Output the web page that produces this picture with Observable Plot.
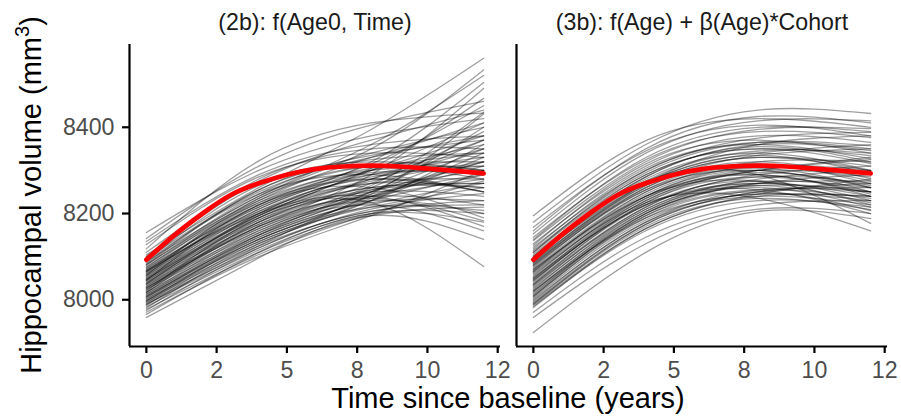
<!DOCTYPE html>
<html><head><meta charset="utf-8">
<script src="https://cdn.jsdelivr.net/npm/d3@7"></script>
<script src="https://cdn.jsdelivr.net/npm/@observablehq/plot@0.6"></script>
<style>
body{margin:0;background:#fff;}
svg{font-family:"Liberation Sans",Arial,sans-serif;}
g[aria-label="x-axis tick label"], g[aria-label="y-axis tick label"],
g[aria-label="x-axis tick label"] text, g[aria-label="y-axis tick label"] text{font-size:23.2px;fill:#4d4d4d;}
g[aria-label="x-axis tick"], g[aria-label="y-axis tick"]{stroke:#333;stroke-width:2.2px;}
</style></head><body><div id="chart"></div>
<script>
const panels = ["(2b): f(Age0, Time)", "(3b): f(Age) + \u03b2(Age)*Cohort"];
const knotTimes = [0, 4, 8, 12];
// each row: one subject's volume at knotTimes
const lines2b = [
[8156,8300,8380,8420],[8142,8310,8405,8460],[8128,8285,8340,8330],[8118,8322,8410,8433],
[8110,8270,8320,8300],[8104,8260,8395,8560],[8099,8280,8350,8350],[8095,8250,8330,8380],
[8091,8265,8310,8280],[8088,8240,8360,8520],[8085,8255,8325,8340],[8082,8230,8300,8310],
[8079,8245,8340,8400],[8076,8225,8280,8250],[8074,8240,8350,8533],[8072,8215,8300,8360],
[8070,8235,8310,8320],[8068,8205,8270,8260],[8066,8230,8330,8410],[8064,8210,8290,8300],
[8062,8225,8305,8340],[8060,8200,8280,8350],[8058,8220,8295,8290],[8056,8195,8275,8320],
[8054,8215,8320,8504],[8052,8190,8260,8270],[8050,8210,8300,8380],[8048,8185,8250,8240],
[8046,8205,8285,8310],[8044,8180,8270,8390],[8042,8200,8290,8330],[8040,8175,8240,8220],
[8038,8195,8305,8467],[8036,8170,8255,8300],[8034,8190,8270,8280],[8032,8165,8230,8200],
[8030,8185,8280,8370],[8028,8160,8245,8290],[8026,8180,8260,8260],[8024,8155,8250,8350],
[8022,8175,8235,8183],[8020,8190,8225,8077],[8018,8150,8240,8310],[8016,8170,8265,8435],
[8014,8145,8225,8230],[8012,8165,8250,8320],[8010,8140,8215,8207],[8008,8160,8240,8280],
[8006,8135,8230,8330],[8004,8155,8220,8160],[8002,8130,8220,8270],[8000,8150,8250,8400],
[7998,8125,8205,8230],[7996,8145,8230,8290],[7994,8120,8210,8246],[7992,8140,8245,8431],
[7990,8115,8200,8200],[7987,8135,8215,8260],[7984,8110,8195,8215],[7981,8130,8230,8360],
[7978,8105,8200,8276],[7975,8120,8205,8220],[7971,8100,8195,8300],[7966,8110,8200,8180],
[7959,8097,8195,8140],[8135,8290,8360,8380],[8100,8275,8370,8440],[8090,8245,8290,8250],
[8081,8255,8335,8370],[8067,8220,8315,8450],[8057,8235,8310,8300],[8047,8195,8300,8410],
[8037,8200,8280,8250],[8027,8170,8290,8490],[8017,8180,8255,8270],[8007,8150,8260,8370],
[7997,8140,8235,8340],[7989,8125,8240,8320],[8045,8220,8260,8190],[8065,8200,8240,8170]
];
const lines3b = [
[8195,8369,8420,8400],[8180,8360,8440,8432],[8168,8345,8405,8380],[8153,8340,8415,8415],
[8145,8325,8390,8376],[8137,8320,8395,8397],[8130,8310,8380,8365],[8126,8315,8370,8340],
[8122,8300,8375,8388],[8118,8305,8360,8327],[8114,8295,8365,8357],[8110,8290,8350,8316],
[8106,8285,8360,8346],[8102,8280,8340,8300],[8099,8290,8350,8334],[8096,8270,8335,8292],
[8093,8275,8345,8340],[8090,8265,8330,8299],[8087,8270,8340,8360],[8084,8260,8320,8281],
[8081,8265,8330,8310],[8078,8255,8315,8269],[8075,8260,8335,8350],[8072,8250,8310,8276],
[8069,8245,8305,8260],[8066,8250,8320,8320],[8063,8240,8300,8250],[8060,8225,8235,8160],
[8057,8235,8295,8265],[8054,8240,8310,8300],[8051,8230,8290,8240],[8048,8235,8300,8285],
[8045,8225,8285,8250],[8042,8230,8300,8330],[8039,8220,8275,8230],[8036,8215,8285,8270],
[8033,8210,8270,8240],[8030,8215,8290,8310],[8027,8205,8265,8225],[8024,8210,8275,8260],
[8021,8200,8260,8215],[8018,8205,8280,8300],[8015,8195,8255,8235],[8012,8200,8265,8250],
[8009,8190,8250,8207],[8006,8195,8270,8290],[8003,8185,8245,8230],[8000,8180,8255,8250],
[7997,8180,8240,8220],[7994,8175,8250,8270],[7991,8170,8235,8209],[7988,8165,8240,8240],
[7985,8160,8230,8215],[7982,8165,8245,8280],[7971,8145,8220,8230],[7959,8130,8210,8200],
[7924,8110,8205,8188],[8100,8275,8290,8177],[8085,8270,8360,8380],[8065,8240,8275,8220],
[8050,8220,8270,8250],[8035,8225,8300,8325],[8020,8190,8245,8240],[8140,8330,8400,8390],
[8110,8300,8365,8350],[8080,8255,8300,8260],[8045,8220,8255,8200],[8008,8200,8270,8275],
[7990,8175,8250,8260],[8160,8350,8425,8410],[8098,8285,8355,8320],[8070,8240,8290,8245]
];
const meanTimes = [0,1,2,3,4,5,6,7,8,9,10,11,12];
const meanVolume = [8093,8150,8200,8243,8270,8290,8303,8309,8311,8309,8304,8299,8293];
const xTicks = [0, 2.5, 5, 7.5, 10, 12.5];
const xTickLabels = ["0","2","5","8","10","12"];
const yTicks = [8000, 8200, 8400];
const xTitle = "Time since baseline (years)";
const yTitleMain = "Hippocampal volume (mm";
const yTitleSup = "3";
const yTitleEnd = ")";

const subjectRows = [];
[lines2b, lines3b].forEach((set, p) => set.forEach((vals, i) => vals.forEach((v, k) =>
  subjectRows.push({panel: panels[p], id: p + "-" + i, t: knotTimes[k], v}))));
const meanRows = panels.flatMap(panel => meanTimes.map((t, k) => ({panel, t, v: meanVolume[k]})));

const W = 901, H = 418, mL = 128, mR = 13, mT = 44, mB = 72;
const xDom = [-0.6, 12.6], yDom = [7891.6, 8592];

const plot = Plot.plot({
  width: W, height: H, marginLeft: mL, marginRight: mR, marginTop: mT, marginBottom: mB,
  style: {fontFamily: "Liberation Sans, Arial, sans-serif", background: "white", overflow: "visible"},
  fx: {domain: panels, paddingInner: 0.0412, paddingOuter: 0, axis: null, label: null},
  x: {domain: xDom, ticks: xTicks, tickFormat: d => xTickLabels[xTicks.indexOf(d)], tickSize: 7, tickPadding: 8, label: null},
  y: {domain: yDom, ticks: yTicks, tickFormat: d => String(d), tickSize: 7, tickPadding: 8, label: null},
  marks: [
    Plot.line(subjectRows, {x: "t", y: "v", z: "id", fx: "panel", curve: "natural", stroke: "black", strokeOpacity: 0.38, strokeWidth: 1.3}),
    Plot.line(meanRows, {x: "t", y: "v", fx: "panel", curve: "natural", stroke: "#FF0000", strokeWidth: 4.7}),
    Plot.ruleX([xDom[0]], {stroke: "black", strokeWidth: 2.2}),
    Plot.ruleY([yDom[0]], {stroke: "black", strokeWidth: 2.2}),
    Plot.text(panels, {fx: d => d, text: d => d, frameAnchor: "top", lineAnchor: "bottom", dy: -14.5, fontSize: 23.2, fill: "#1a1a1a"})
  ]
});

const svg = d3.select(plot);
svg.append("text")
  .attr("x", (mL + W - mR) / 2).attr("y", 408)
  .attr("text-anchor", "middle").attr("font-size", 29).attr("fill", "black")
  .text(xTitle);
const yt = svg.append("text")
  .attr("transform", `translate(40.5, ${(mT + H - mB) / 2}) rotate(-90)`)
  .attr("text-anchor", "middle").attr("font-size", 29).attr("fill", "black");
yt.append("tspan").text(yTitleMain);
yt.append("tspan").attr("font-size", 20).attr("dy", -12).text(yTitleSup);
yt.append("tspan").attr("dy", 12).text(yTitleEnd);

document.getElementById("chart").appendChild(plot);
</script></body></html>
